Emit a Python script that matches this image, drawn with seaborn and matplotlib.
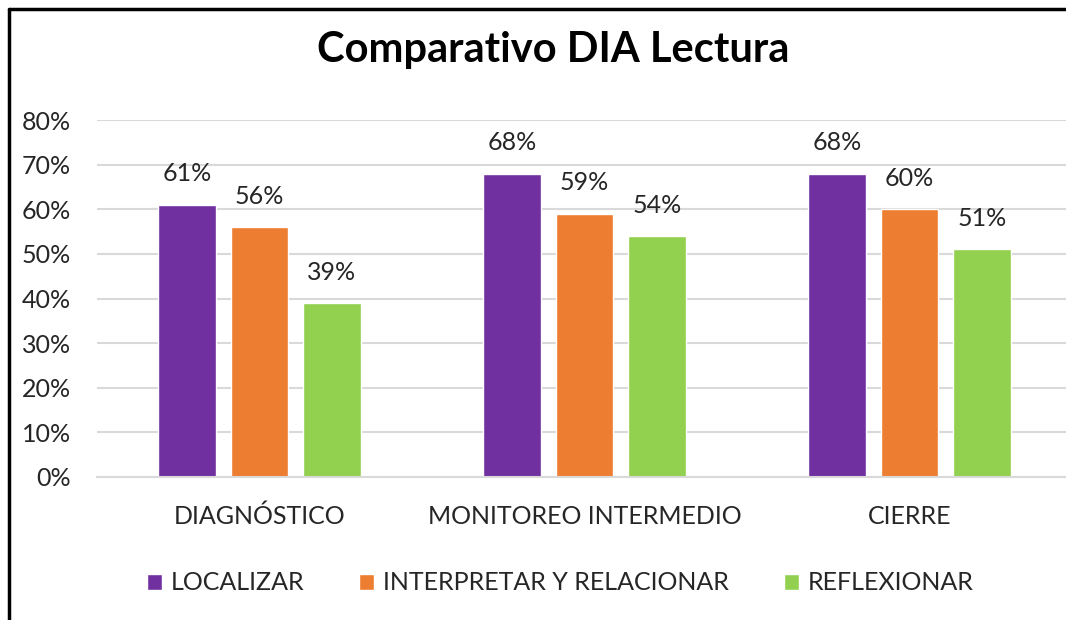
import pandas as pd
import seaborn as sns
import matplotlib.pyplot as plt
from matplotlib.lines import Line2D
from matplotlib.patches import Patch
from matplotlib.ticker import PercentFormatter

stages = ["DIAGNÓSTICO", "MONITOREO INTERMEDIO", "CIERRE"]
skills = ["LOCALIZAR", "INTERPRETAR Y RELACIONAR", "REFLEXIONAR"]
localizar = [0.61, 0.68, 0.68]
interpretar = [0.56, 0.59, 0.60]
reflexionar = [0.39, 0.54, 0.51]
colors = ["#7030A0", "#ED7D31", "#92D050"]

rows = []
for skill, vals in zip(skills, [localizar, interpretar, reflexionar]):
    for stage, v in zip(stages, vals):
        rows.append({"Etapa": stage, "Habilidad": skill, "Valor": v})
df = pd.DataFrame(rows)

sns.set_style("white")
plt.rcParams['font.family'] = ['Lato', 'DejaVu Sans']

fig = plt.figure(figsize=(10.66, 6.2), dpi=100)
W, H = 1066, 620
ax = fig.add_axes([97 / W, 1 - 477 / H, (1072 - 97) / W, (477 - 120) / H])

sns.barplot(data=df, x="Etapa", y="Valor", hue="Habilidad", order=stages,
            hue_order=skills, palette=colors, width=0.667, gap=0.2,
            ax=ax, legend=False, saturation=1)

ax.set_ylim(0, 0.8)
ax.set_xlim(-0.5, 2.5)
ax.set_yticks([i / 10 for i in range(9)])
ax.yaxis.set_major_formatter(PercentFormatter(1.0, decimals=0))
ax.grid(axis="y", color="#D9D9D9", linewidth=1.5)
ax.set_axisbelow(True)
for s in ["top", "right", "left"]:
    ax.spines[s].set_visible(False)
ax.spines["bottom"].set_color("#D9D9D9")
ax.spines["bottom"].set_linewidth(1.5)
ax.tick_params(axis="y", length=0, pad=19, labelsize=18, labelcolor="#262626")
ax.tick_params(axis="x", length=0, pad=20, labelsize=18, labelcolor="#262626")
ax.set_xlabel("")
ax.set_ylabel("")

# value labels
for bar in ax.patches:
    h = bar.get_height()
    ax.annotate(f"{h * 100:.0f}%", (bar.get_x() + bar.get_width() / 2, h),
                xytext=(0, 14), textcoords="offset points", ha="center",
                va="bottom", fontsize=18, color="#262626")

fig.text(553 / W, 1 - 50 / H, "Comparativo DIA Lectura", ha="center",
         va="center", fontsize=30, fontweight="bold", color="black")

handles = [Patch(facecolor=c, label=s) for c, s in zip(colors, skills)]
fig.legend(handles=handles, loc="center", bbox_to_anchor=(560 / W, 1 - 583 / H),
           ncol=3, frameon=False, fontsize=18, handlelength=0.6,
           handleheight=0.6, handletextpad=0.35, columnspacing=2.2,
           labelcolor="#262626")

# chart border (top and left edges visible in the crop)
fig.add_artist(Line2D([9 / W, 1], [1 - 9 / H, 1 - 9 / H], color="black", linewidth=2.5))
fig.add_artist(Line2D([9 / W, 9 / W], [0, 1 - 9 / H], color="black", linewidth=2.5))

fig.savefig("out.png", dpi=100)
